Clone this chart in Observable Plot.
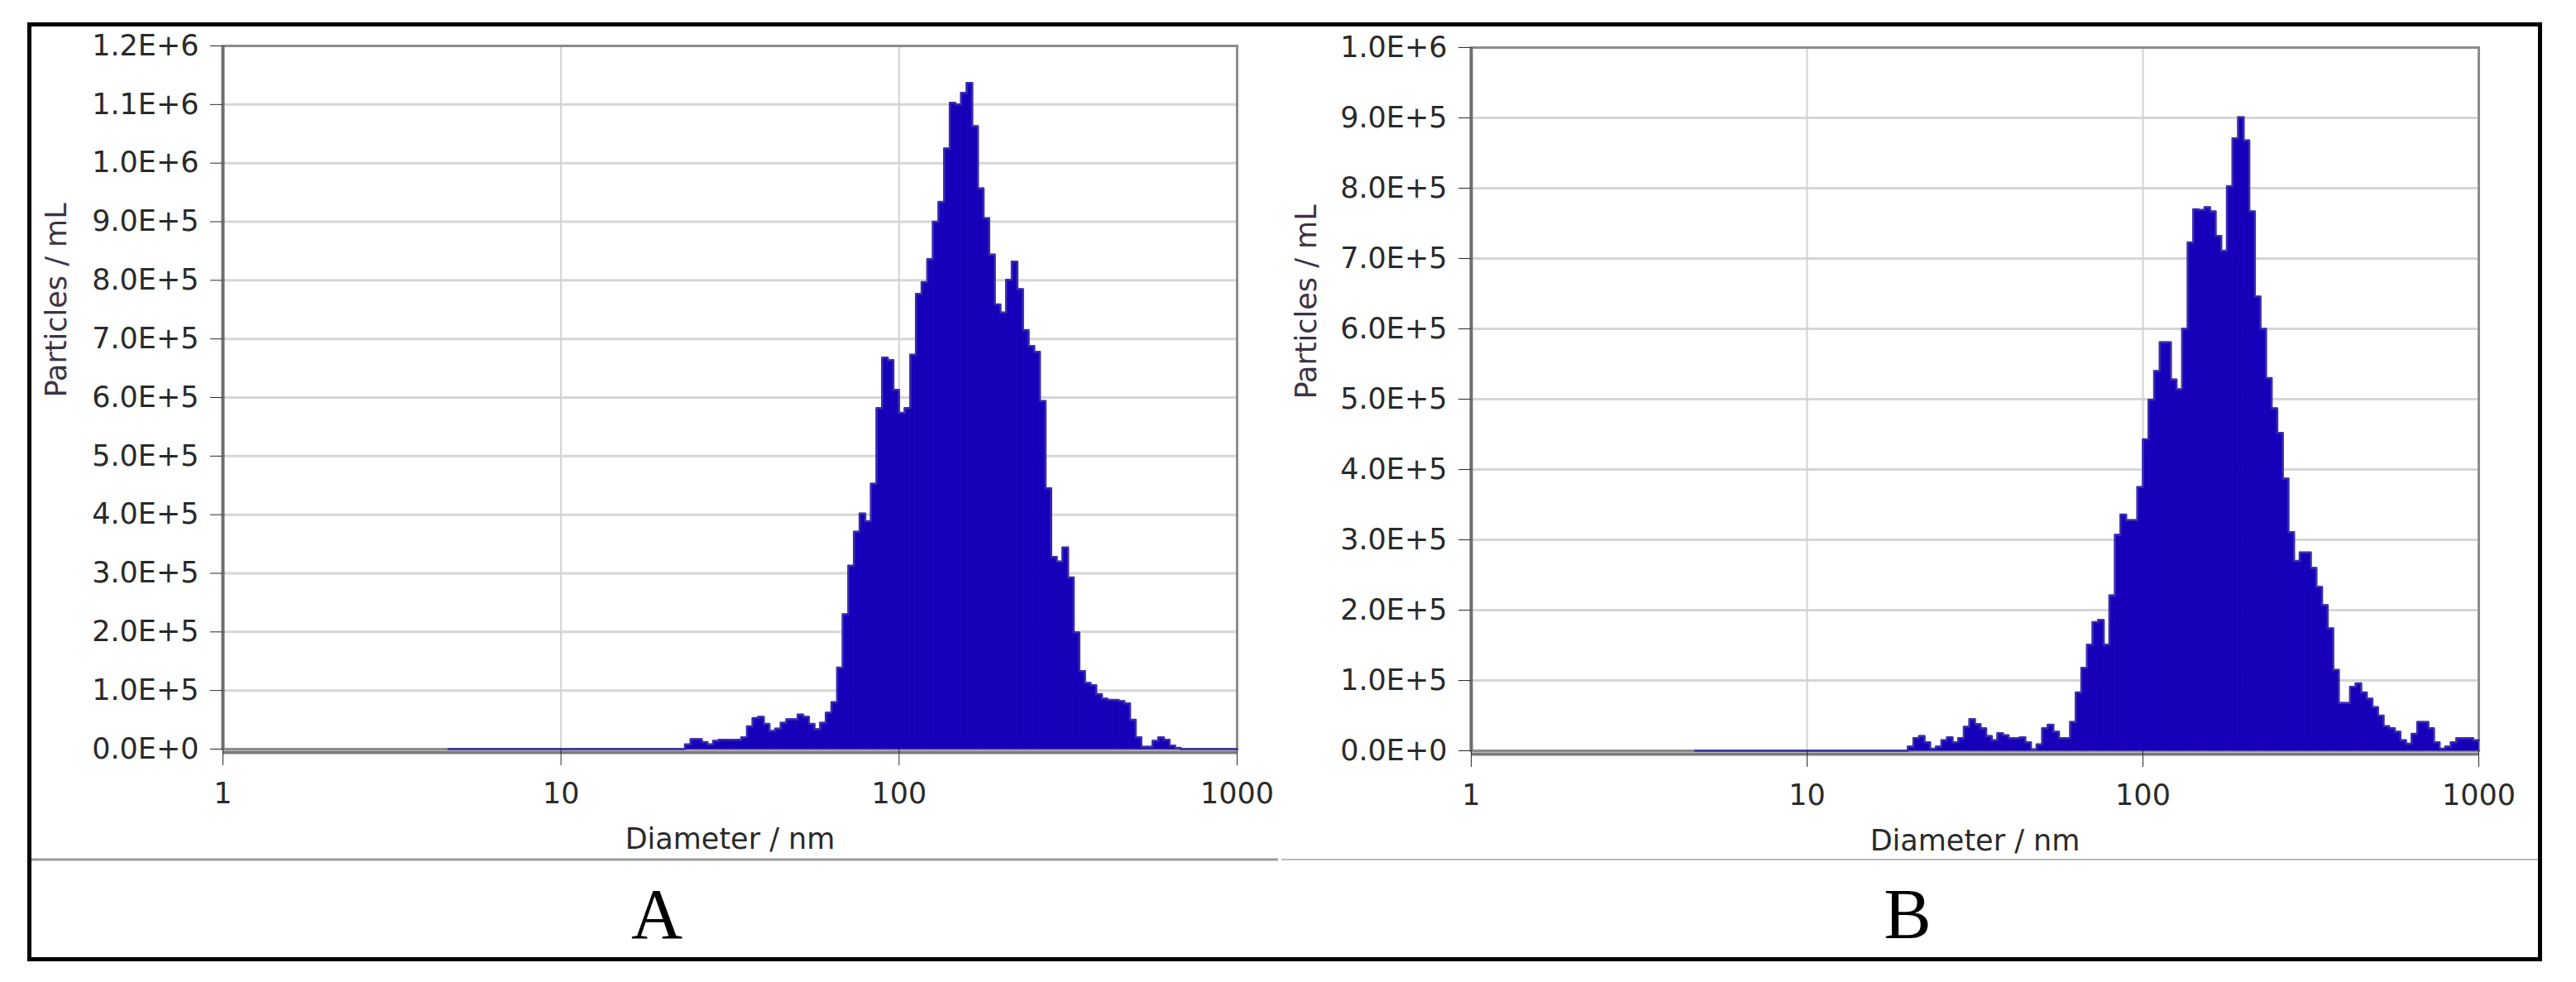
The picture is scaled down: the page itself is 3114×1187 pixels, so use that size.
<!DOCTYPE html>
<html>
<head>
<meta charset="utf-8">
<script src="https://cdn.jsdelivr.net/npm/d3@7"></script>
<script src="https://cdn.jsdelivr.net/npm/@observablehq/plot@0.6"></script>
<style>
  html, body { margin: 0; padding: 0; background: #fff; }
  #page { position: relative; width: 3114px; height: 1187px; background: #fff; overflow: hidden; }
  .panel { position: absolute; top: 0; }
  #overlay { position: absolute; left: 0; top: 0; pointer-events: none; }
</style>
</head>
<body>
<div id="page">
  <div id="chartA" class="panel" style="left:0px"></div>
  <div id="chartB" class="panel" style="left:1545px"></div>
  <svg id="overlay" width="3114" height="1187">
    <rect x="35.5" y="29.5" width="3035" height="1130" fill="none" stroke="#000" stroke-width="5"/>
    <line x1="38" x2="1545" y1="1039" y2="1039" stroke="#9a9a9a" stroke-width="3"/>
    <line x1="1549" x2="3068" y1="1039" y2="1039" stroke="#b8b8b8" stroke-width="2"/>
    <text x="794" y="1134" text-anchor="middle" font-family="Liberation Serif, Times New Roman, serif" font-size="86" fill="#000">A</text>
    <text x="2306" y="1134" text-anchor="middle" font-family="Liberation Serif, Times New Roman, serif" font-size="86" fill="#000">B</text>
  </svg>
</div>
<script>
// ---- Data (Particles / mL per size class, log-spaced classes: 60 per decade) ----
const classesPerDecade = 60;
const firstClass = 40;            // first class starts at 10^(40/60) ≈ 4.6 nm
const xTicks = [1, 10, 100, 1000];
const yTicksA = [0, 100000, 200000, 300000, 400000, 500000, 600000, 700000, 800000, 900000, 1000000, 1100000, 1200000];
const yTicksB = [0, 100000, 200000, 300000, 400000, 500000, 600000, 700000, 800000, 900000, 1000000];

// Sample A, classes 40..179 (values in particles/mL)
const particlesA = [
  0, 0, 0, 0, 0, 0, 0, 0, 0, 0,            // 40-49
  0, 0, 0, 0, 0, 0, 0, 0, 0, 0,            // 50-59
  0, 0, 0, 0, 0, 0, 0, 0, 0, 0,            // 60-69
  0, 0, 0, 0, 0, 0, 0, 0, 0, 0,            // 70-79
  0, 0, 8000, 17000, 17000, 12000, 8000, 14000, 16000, 16000,          // 80-89
  16000, 16000, 20000, 39000, 53000, 55000, 43000, 31000, 35000, 45000, // 90-99
  51000, 51000, 59000, 55000, 43000, 34000, 45000, 62000, 80000, 139000, // 100-109
  230000, 313000, 371000, 402000, 389000, 453000, 582000, 668000, 664000, 613000, // 110-119
  574000, 582000, 673000, 777000, 797000, 836000, 900000, 934000, 1025000, 1103000, // 120-129
  1100000, 1120000, 1137000, 1063000, 957000, 906000, 844000, 759000, 745000, 801000, // 130-139
  832000, 785000, 715000, 688000, 678000, 594000, 445000, 328000, 320000, 344000, // 140-149
  293000, 199000, 133000, 113000, 109000, 94000, 86000, 84000, 84000, 82000,   // 150-159
  78000, 50000, 20000, 4000, 4000, 14000, 20000, 16000, 6000, 2000,           // 160-169
  0, 0, 0, 0, 0, 0, 0, 0, 0, 0             // 170-179
];

// Sample B, classes 40..179 (values in particles/mL)
const particlesB = [
  0, 0, 0, 0, 0, 0, 0, 0, 0, 0,            // 40-49
  0, 0, 0, 0, 0, 0, 0, 0, 0, 0,            // 50-59
  0, 0, 0, 0, 0, 0, 0, 0, 0, 0,            // 60-69
  0, 0, 0, 0, 0, 0, 0, 0, 6000, 18000,     // 70-79
  21000, 12000, 3000, 6000, 15000, 19000, 12000, 18000, 34000, 45000,   // 80-89
  38000, 32000, 21000, 15000, 25000, 22000, 18000, 18000, 19000, 12000, // 90-99
  2000, 9000, 32000, 37000, 27000, 18000, 18000, 41000, 83000, 118000,  // 100-109
  151000, 183000, 186000, 151000, 221000, 307000, 336000, 328000, 328000, 375000, // 110-119
  443000, 499000, 540000, 581000, 581000, 528000, 514000, 600000, 723000, 770000, // 120-129
  769000, 773000, 767000, 732000, 711000, 803000, 871000, 901000, 868000, 767000, // 130-139
  646000, 600000, 530000, 487000, 452000, 387000, 311000, 270000, 282000, 282000, // 140-149
  260000, 233000, 207000, 174000, 115000, 68000, 68000, 91000, 96000, 83000,     // 150-159
  74000, 62000, 50000, 35000, 32000, 27000, 15000, 10000, 24000, 41000,         // 160-169
  41000, 32000, 12000, 3000, 6000, 12000, 18000, 18000, 18000, 15000            // 170-179
];

// ---- Build class tables ----
function classTable(values) {
  return values.map((v, i) => {
    const k = firstClass + i;
    return { x1: 10 ** (k / classesPerDecade), x2: 10 ** ((k + 1) / classesPerDecade), value: v };
  });
}
function stepPoints(table) {
  const pts = table.map(d => ({ x: d.x1, value: d.value }));
  const last = table[table.length - 1];
  pts.push({ x: last.x2, value: last.value });
  return pts;
}
function sci(v) {
  if (v === 0) return "0.0E+0";
  const e = Math.floor(Math.log10(v) + 1e-9);
  return (v / 10 ** e).toFixed(1) + "E+" + e;
}

const FONT = "DejaVu Sans, Verdana, sans-serif";
const BAR = "#1600b9";

function makeChart({ values, yTicks, yMax, width, height, mL, mR, mT, mB, titleDx }) {
  const table = classTable(values);
  return Plot.plot({
    width, height,
    marginLeft: mL, marginRight: mR, marginTop: mT, marginBottom: mB,
    x: { type: "log", domain: [1, 1000] },
    y: { domain: [0, yMax] },
    style: { fontFamily: FONT, fontSize: "35px", color: "#262626", background: "transparent", overflow: "visible" },
    marks: [
      Plot.gridY({ ticks: yTicks, stroke: "#d6d6d6", strokeOpacity: 1, strokeWidth: 3 }),
      Plot.gridX({ ticks: [10, 100], stroke: "#d2d2d2", strokeOpacity: 1, strokeWidth: 2 }),
      Plot.frame({ stroke: "#8c8c8c", strokeWidth: 3 }),
      Plot.ruleY([0], { stroke: "#7a7a7a", strokeWidth: 4, dy: 4 }),
      Plot.ruleX([1], { stroke: "#6e6e6e", strokeWidth: 4 }),
      Plot.rectY(table, { x1: "x1", x2: "x2", y: "value", fill: BAR, stroke: BAR, strokeWidth: 0.8, inset: 0 }),
      Plot.lineY(stepPoints(table), { x: "x", y: "value", curve: "step-after", stroke: "#3a2cae", strokeWidth: 2.5 }),
      Plot.axisY({ ticks: yTicks, tickFormat: sci, tickSize: 15, tickPadding: 14, label: null, fontSize: 35, color: "#2a2a2a" }),
      Plot.axisX({ ticks: xTicks, tickFormat: d => String(d), tickSize: 20, tickPadding: 21, label: null, fontSize: 35, color: "#2a2a2a" }),
      Plot.text(["Particles / mL"], { frameAnchor: "left", dx: titleDx, rotate: -90, fill: "#3d3345", fontSize: 35, fontFamily: FONT, lineAnchor: "middle" }),
      Plot.text(["Diameter / nm"], { frameAnchor: "bottom", dy: 109, fill: "#2a2a2a", fontSize: 35, fontFamily: FONT, lineAnchor: "middle" })
    ]
  });
}

document.getElementById("chartA").append(makeChart({
  values: particlesA, yTicks: yTicksA, yMax: 1200000,
  width: 1545, height: 1040, mL: 269, mR: 50, mT: 55, mB: 135, titleDx: -201
}));
document.getElementById("chartB").append(makeChart({
  values: particlesB, yTicks: yTicksB, yMax: 1000000,
  width: 1528, height: 1040, mL: 233, mR: 77, mT: 57, mB: 133, titleDx: -199
}));
</script>
</body>
</html>
